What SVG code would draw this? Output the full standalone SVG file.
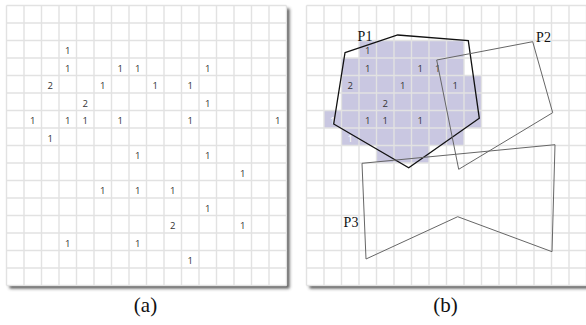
<svg xmlns="http://www.w3.org/2000/svg" xmlns:xlink="http://www.w3.org/1999/xlink" width="586" height="325" viewBox="0 0 586 325">
<style>
.num{font-family:"Open Sans","Liberation Sans",sans-serif;font-size:9.5px;fill:#333;text-anchor:middle}
.wn{fill:#fff}
.gl{fill:none;stroke:#e2e2e2;stroke-width:1.4}
.lbl{font-family:"Liberation Serif",serif;font-size:14px;fill:#111;text-anchor:middle}
.cap{font-family:"Liberation Serif",serif;font-size:21px;fill:#111;text-anchor:middle}
.shade{fill:#c9c7e1}
</style>
<defs>
<filter id="sh" x="-5%" y="-5%" width="115%" height="115%">
<feDropShadow dx="3" dy="3" stdDeviation="1.6" flood-color="#444" flood-opacity="0.9"/>
</filter>
<path id="grid" class="gl" d="M0 0V280M17.5 0V280M35 0V280M52.5 0V280M70 0V280M87.5 0V280M105 0V280M122.5 0V280M140 0V280M157.5 0V280M175 0V280M192.5 0V280M210 0V280M227.5 0V280M245 0V280M262.5 0V280M280 0V280M0 0H280M0 17.5H280M0 35H280M0 52.5H280M0 70H280M0 87.5H280M0 105H280M0 122.5H280M0 140H280M0 157.5H280M0 175H280M0 192.5H280M0 210H280M0 227.5H280M0 245H280M0 262.5H280M0 280H280"/>
</defs>
<g id="panel-a" transform="translate(6.5,5.5)">
<rect width="280" height="280" fill="#fff" filter="url(#sh)"/>
<use xlink:href="#grid"/>
<g class="num">
<text x="61.25" y="48.5">1</text>
<text x="61.25" y="66">1</text><text x="113.75" y="66">1</text><text x="131.25" y="66">1</text><text x="201.25" y="66">1</text>
<text x="43.75" y="83.5">2</text><text x="96.25" y="83.5">1</text><text x="148.75" y="83.5">1</text><text x="183.75" y="83.5">1</text>
<text x="78.75" y="101">2</text><text x="201.25" y="101">1</text>
<text x="26.25" y="118.5">1</text><text x="61.25" y="118.5">1</text><text x="78.75" y="118.5">1</text><text x="113.75" y="118.5">1</text><text x="183.75" y="118.5">1</text><text x="271.25" y="118.5">1</text>
<text x="43.75" y="136">1</text>
<text x="131.25" y="153.5">1</text><text x="201.25" y="153.5">1</text>
<text x="236.25" y="171">1</text>
<text x="96.25" y="188.5">1</text><text x="131.25" y="188.5">1</text><text x="166.25" y="188.5">1</text>
<text x="201.25" y="206">1</text>
<text x="166.25" y="223.5">2</text><text x="236.25" y="223.5">1</text>
<text x="61.25" y="241">1</text><text x="131.25" y="241">1</text>
<text x="183.75" y="258.5">1</text>
</g>
</g>
<g id="panel-b" transform="translate(306.5,5.5)">
<rect width="280" height="280" fill="#fff" filter="url(#sh)"/>
<path class="shade" d="M52.5 35H157.5V70H175V122.5H157.5V140H122.5V157.5H70V140H35V122.5H17.5V105H35V52.5H52.5Z"/>
<use xlink:href="#grid"/>
<g class="num">
<text x="61.25" y="48.5">1</text>
<text x="61.25" y="66">1</text><text x="113.75" y="66">1</text><text x="131.25" y="66">1</text>
<text x="43.75" y="83.5">2</text><text x="96.25" y="83.5">1</text><text x="148.75" y="83.5">1</text>
<text x="78.75" y="101">2</text>
<text x="26.25" y="118.5" class="wn">1</text><text x="61.25" y="118.5">1</text><text x="78.75" y="118.5">1</text><text x="113.75" y="118.5">1</text>
<text x="43.75" y="136" class="wn">1</text>
</g>
</g>
<g id="polygons" fill="none">
<polygon id="P1" points="345,52.7 397.7,35 468.3,40.7 479.3,118.3 408.7,167.7 333.7,124" stroke="#111" stroke-width="1.3"/>
<polygon id="P2" points="436.7,60 532.7,41.7 552.7,112.7 458.7,169.3" stroke="#666" stroke-width="1"/>
<polygon id="P3" points="362,163.3 555,144.7 552,251.7 457.7,216.7 366,259" stroke="#666" stroke-width="1"/>
</g>
<g id="labels">
<text class="lbl" x="365" y="40.8">P1</text>
<text class="lbl" x="543.5" y="41.5">P2</text>
<text class="lbl" x="351" y="226.5">P3</text>
<text class="cap" x="145.5" y="312">(a)</text>
<text class="cap" x="445.5" y="312">(b)</text>
</g>
</svg>
